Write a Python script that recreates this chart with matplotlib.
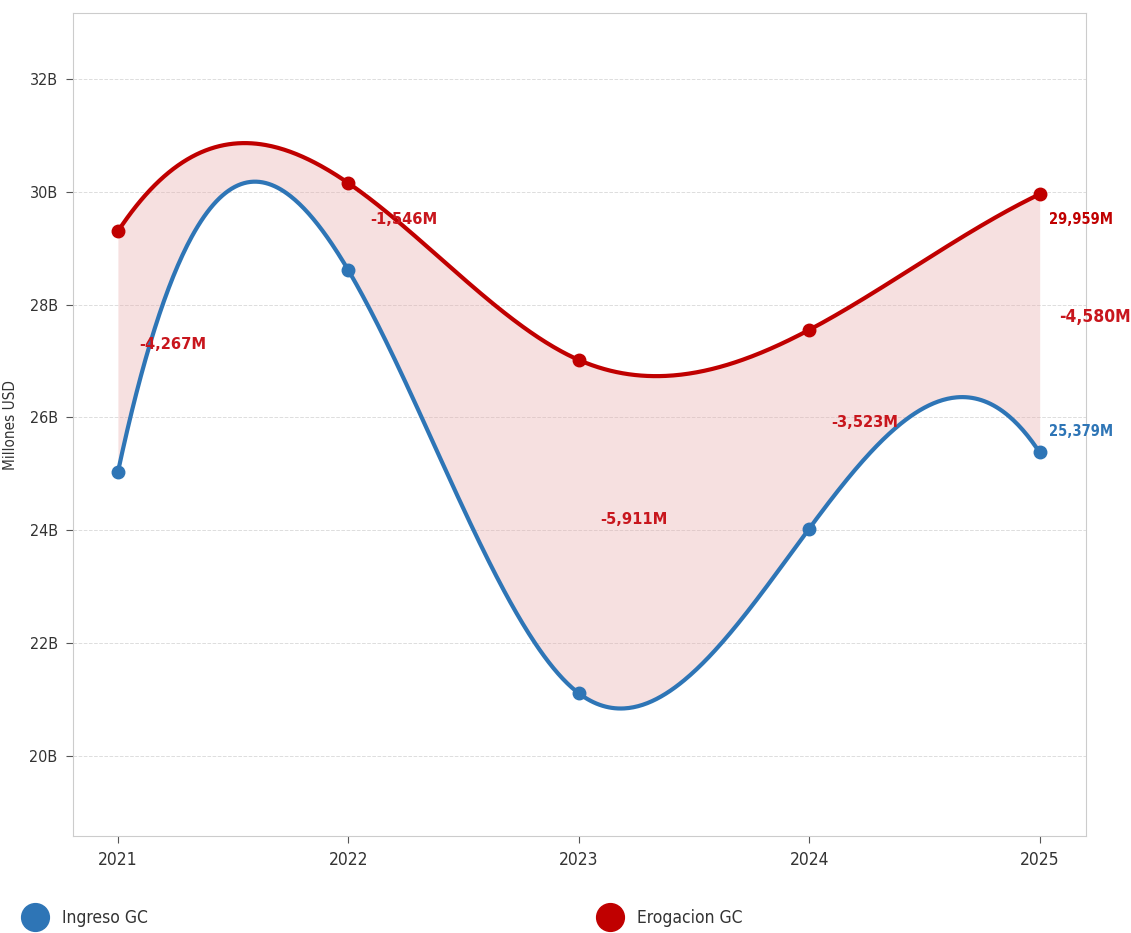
import numpy as np
import matplotlib.pyplot as plt
from matplotlib.lines import Line2D

years = [2021, 2022, 2023, 2024, 2025]
ingreso = [25.03, 28.61, 21.11, 24.03, 25.379]
erogacion = [29.30, 30.156, 27.02, 27.553, 29.959]
diff_labels = ['-4,267M', '-1,546M', '-5,911M', '-3,523M', '-4,580M']
y_ticks = [20, 22, 24, 26, 28, 30, 32]

blue = '#2e75b6'
red = '#c00000'

plt.rcParams['font.family'] = ['DejaVu Sans']
plt.rcParams['font.stretch'] = 'condensed'


def notaknot_spline(x, y, xs):
    # cubic spline with not-a-knot ends: one interior knot at the middle point
    x = np.asarray(x, float)
    y = np.asarray(y, float)
    k = x[len(x) // 2]

    def basis(v):
        t = v - k
        return np.column_stack([np.ones_like(t), t, t**2, t**3, np.maximum(t, 0)**3])

    coef = np.linalg.solve(basis(x), y)
    return basis(xs) @ coef


xs = np.linspace(years[0], years[-1], 600)
ing_s = notaknot_spline(years, ingreso, xs)
ero_s = notaknot_spline(years, erogacion, xs)

fig = plt.figure(figsize=(11.31, 9.33), dpi=100)
ax = fig.add_axes([0.0645, 0.104, 0.8955, 0.882])

ax.fill_between(xs, ing_s, ero_s, color='#e8a8a8', alpha=0.35, lw=0)
ax.plot(xs, ing_s, color=blue, lw=3)
ax.plot(xs, ero_s, color=red, lw=3)
ax.plot(years, ingreso, 'o', color=blue, ms=9)
ax.plot(years, erogacion, 'o', color=red, ms=9)

for i, yr in enumerate(years):
    mid = (ingreso[i] + erogacion[i]) / 2 + 0.12
    fs = 12.5 if i == len(years) - 1 else 11.8
    ax.text(yr + 0.24, mid, diff_labels[i], color='#c8161d', fontsize=fs,
            fontweight='bold', ha='center', va='center')

ax.annotate(f'{erogacion[-1] * 1000:,.0f}M', (years[-1], erogacion[-1]),
            xytext=(7, -18), textcoords='offset points', color=red,
            fontsize=10.5, fontweight='bold', ha='left', va='center')
ax.annotate(f'{ingreso[-1] * 1000:,.0f}M', (years[-1], ingreso[-1]),
            xytext=(7, 15), textcoords='offset points', color=blue,
            fontsize=10.5, fontweight='bold', ha='left', va='center')

ax.set_xlim(2020.805, 2025.2)
ax.set_ylim(18.58, 33.17)
ax.set_xticks(years)
ax.set_xticklabels([str(y) for y in years], fontsize=12.5, color='#333333')
ax.set_yticks(y_ticks)
ax.set_yticklabels([f'{v}B' for v in y_ticks], fontsize=11.5, color='#333333')
ax.set_ylabel('Millones USD', fontsize=11, color='#333333', labelpad=8)
ax.grid(axis='y', color='#dddddd', ls='--', lw=0.7)
ax.set_axisbelow(True)
for s in ax.spines.values():
    s.set_color('#cccccc')
ax.tick_params(length=5, color='#555555', pad=6)

handles = [Line2D([], [], marker='o', ls='', color=blue, ms=20),
           Line2D([], [], marker='o', ls='', color=red, ms=20)]
fig.legend(handles, ['Ingreso GC', 'Erogacion GC'], loc='center left',
           bbox_to_anchor=(0.008, 0.016), ncol=2, frameon=False, fontsize=12.5,
           labelcolor='#333333', handletextpad=0.95, columnspacing=26,
           handlelength=1.2)

fig.savefig('out.png', dpi=100)
